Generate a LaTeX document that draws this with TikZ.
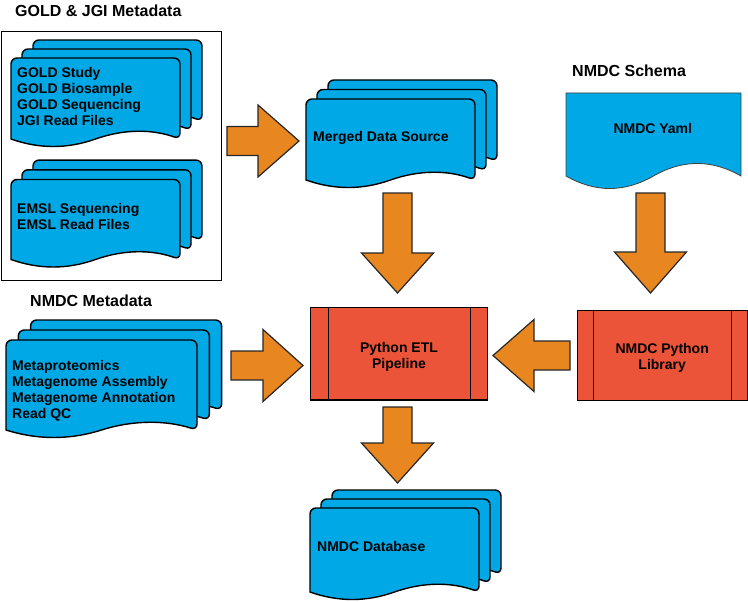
\documentclass[tikz,border=0pt]{standalone}
\usepackage{fontspec}
\setmainfont{Liberation Sans}
\usetikzlibrary{calc}
\definecolor{docblue}{RGB}{0,168,230}
\definecolor{arroworange}{RGB}{232,135,32}
\definecolor{procred}{RGB}{236,84,58}

\begin{document}
\begin{tikzpicture}[
x=1pt, y=-1pt,
docline/.style={draw=black, line width=1.4pt, fill=docblue},
yamlline/.style={draw=black!75, line width=0.8pt, fill=docblue},
procbox/.style={draw=black, line width=1.1pt, fill=procred, inner sep=0pt},
procline/.style={draw=black, line width=1.1pt},
arrowline/.style={draw=black!85, line width=1.2pt, fill=arroworange},
lbl/.style={font=\bfseries\fontsize{14}{16}\selectfont, inner sep=0pt, align=left, anchor=north west},
ttl/.style={font=\bfseries\fontsize{16}{19}\selectfont, inner sep=0pt, anchor=north west},
pics/docpage/.style n args={3}{code={
  \draw[docline] (0,#2) [rounded corners=6pt] -- (0,0) -- (#1,0) -- (#1,#2) [sharp corners]
     .. controls ({5*#1/6},{#2-4*#3/3}) and ({2*#1/3},{#2-4*#3/3}) .. ({#1/2},#2)
     .. controls ({#1/3},{#2+4*#3/3}) and ({#1/6},{#2+4*#3/3}) .. (0,#2) -- cycle;
}},
pics/multidoc/.style n args={4}{code={
  \foreach \k in {2,1,0}
    \pic at ({\k*#3},{-\k*#4}) {docpage={#1}{#2}{7.5}};
}},
pics/barrow/.style 2 args={code={
  \draw[arrowline] (0,-14.5) -- ({#1-#2},-14.5) -- ({#1-#2},-36) -- (#1,0)
     -- ({#1-#2},36) -- ({#1-#2},14.5) -- (0,14.5) -- cycle;
}},
]
\useasboundingbox (0,0) rectangle (748,602);
%Frame
\node[draw=black, line width=0.9pt, minimum width=220, minimum height=249, inner sep=0pt] (goldFrame) at (111,155.5) {};
%Documents
\pic at (11,58)    {multidoc={169}{81}{11}{9}};
\pic at (11,179.5) {multidoc={169}{80}{11}{9.7}};
\pic at (306,99)   {multidoc={169}{81}{11}{9.5}};
\pic at (6,340)    {multidoc={191}{90}{12.3}{10}};
\pic at (310,508)  {multidoc={169}{84}{11}{9}};
\draw[yamlline] (566,93) -- (741,93) -- (741,176)
   .. controls (711.8,159.3) and (682.7,159.3) .. (653.5,176)
   .. controls (624.3,192.7) and (595.2,192.7) .. (566,176) -- cycle;
%Process boxes
\node[procbox, minimum width=177, minimum height=92.7] (etl) at (399.2,353.6) {};
\node[procbox, minimum width=170.4, minimum height=89.3] (lib) at (662.5,355.4) {};
\draw[procline] ([xshift=18]etl.north west) -- ([xshift=18]etl.south west);
\draw[procline] ([xshift=-17.7]etl.north east) -- ([xshift=-17.7]etl.south east);
\draw[procline] ([xshift=17]lib.north west) -- ([xshift=17]lib.south west);
\draw[procline] ([xshift=-17]lib.north east) -- ([xshift=-17]lib.south east);
%Titles
\node[ttl] (goldTitle)   at (15,4.7)  {GOLD \& JGI Metadata};
\node[ttl] (metaTitle)   at (30,295)  {NMDC Metadata};
\node[ttl] (schemaTitle) at (572,65)  {NMDC Schema};
%Labels
\node[lbl] (goldTxt)   at (17,66.7)  {GOLD Study\\GOLD Biosample\\GOLD Sequencing\\JGI Read Files};
\node[lbl] (emslTxt)   at (17,203.3) {EMSL Sequencing\\EMSL Read Files};
\node[lbl] (mergedTxt) at (313,131)  {Merged Data Source};
\node[lbl] (metaTxt)   at (12,360)   {Metaproteomics\\Metagenome Assembly\\Metagenome Annotation\\Read QC};
\node[lbl] (dbTxt)     at (317,540.7) {NMDC Database};
\node[lbl, anchor=north] (yamlTxt) at (652.8,122.7) {NMDC Yaml};
\node[lbl, anchor=north, align=center] (etlTxt) at (399,341.7) {Python ETL\\Pipeline};
\node[lbl, anchor=north, align=center] (libTxt) at (662.2,342.7) {NMDC Python\\Library};
%Arrows
\pic at (227,141) {barrow={72}{41}};
\pic at (231,365.5) {barrow={72}{40}};
\pic[rotate=-90] at (397.5,193) {barrow={100}{40}};
\pic[rotate=-90] at (650.5,193) {barrow={100}{41}};
\pic[rotate=-90] at (397.5,407) {barrow={76}{40}};
\pic[rotate=180] at (570,355.5) {barrow={77}{41}};
\end{tikzpicture}
\end{document}
